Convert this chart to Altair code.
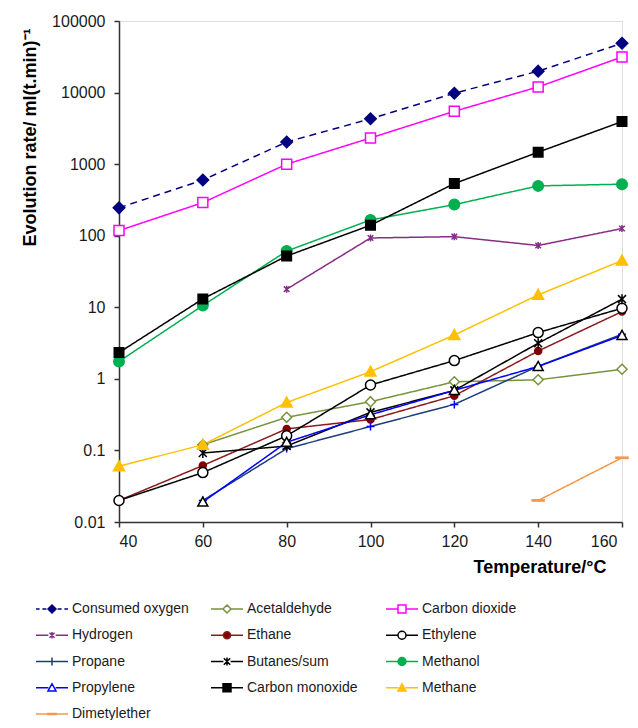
import altair as alt
import pandas as pd

# ---------------- data ----------------
temperature = [40, 60, 80, 100, 120, 140, 160]

consumed_oxygen = [245, 600, 2040, 4300, 9800, 19900, 48800]
acetaldehyde = [None, 0.12, 0.29, 0.48, 0.91, 0.97, 1.36]
carbon_dioxide = [118, 290, 1000, 2320, 5480, 12000, 31400]
hydrogen = [None, None, 17.9, 93, 97, 73, 126]
ethane = [0.02, 0.0615, 0.2, 0.27, 0.58, 2.45, 8.7]
ethylene = [0.02, 0.049, 0.16, 0.82, 1.8, 4.43, 9.7]
propane = [None, 0.02, 0.106, 0.216, 0.44, 1.5, 4.2]
butanes = [None, 0.092, 0.115, 0.34, 0.69, 3.15, 13]
methanol = [1.75, 10.6, 61, 166, 272, 497, 525]
propylene = [None, 0.019, 0.13, 0.315, 0.69, 1.49, 4.05]
carbon_monoxide = [2.33, 13.1, 52, 140, 535, 1470, 3930]
methane = [0.06, 0.12, 0.467, 1.26, 4.1, 14.9, 45]
dimetylether = [None, None, None, None, None, 0.02, 0.079]

series_names = ["Consumed oxygen", "Acetaldehyde", "Carbon dioxide",
                "Hydrogen", "Ethane", "Ethylene",
                "Propane", "Butanes/sum", "Methanol",
                "Propylene", "Carbon monoxide", "Methane",
                "Dimetylether"]
series_values = [consumed_oxygen, acetaldehyde, carbon_dioxide,
                 hydrogen, ethane, ethylene,
                 propane, butanes, methanol,
                 propylene, carbon_monoxide, methane,
                 dimetylether]

y_ticks = [0.01, 0.1, 1, 10, 100, 1000, 10000, 100000]

rows = []
for name, vals in zip(series_names, series_values):
    for t, v in zip(temperature, vals):
        if v is not None:
            rows.append({"series": name, "T": t, "value": v})
df = pd.DataFrame(rows)

# ---------------- styles ----------------
line_colors = ["#000080", "#77933C", "#FF00FF",
               "#862D86", "#8B1A1A", "#000000",
               "#1F3D7A", "#000000", "#00B050",
               "#0000FF", "#000000", "#FFC000",
               "#F79646"]
marker_strokes = ["#000080", "#77933C", "#FF00FF",
                  "#862D86", "#800000", "#000000",
                  "#0000FF", "#000000", "#00B050",
                  "#000000", "#000000", "#FFC000",
                  "#F79646"]
marker_fills = ["#000080", "#FFFFFF", "#FFFFFF",
                "#862D86", "#800000", "#FFFFFF",
                "#0000FF", "#000000", "#00B050",
                "#FFFFFF", "#000000", "#FFC000",
                "#F79646"]
dashes = [[7, 5]] + [[1, 0]] * 12


def diamond(h):
    return f"M0,{-h}L{h},0L0,{h}L{-h},0Z"


def square(h):
    return f"M{-h},{-h}H{h}V{h}H{-h}Z"


def circle(h):
    return f"M{-h},0A{h},{h},0,1,0,{h},0A{h},{h},0,1,0,{-h},0Z"


def tri(h):
    return f"M0,{-h}L{h},{0.8*h}H{-h}Z"


def plus(h):
    return f"M{-h},0H{h}M0,{-h}V{h}"


def star(h):
    k = round(0.8 * h, 3)
    return f"M{-k},{-k}L{k},{k}M{-k},{k}L{k},{-k}M0,{-h}V{h}"


def dash(h):
    t = round(0.12 * h / 1.2, 3)
    return f"M{-h},{-t}H{h}V{t}H{-h}Z"


kinds = [diamond, diamond, square,
         star, circle, circle,
         plus, star, circle,
         tri, square, tri,
         dash]
plot_half = [1.15, 1.0, 1.0,
             0.7, 0.7, 1.0,
             0.8, 1.0, 1.05,
             1.0, 0.95, 1.1,
             1.2]
plot_shapes = [k(h) for k, h in zip(kinds, plot_half)]


def with_line(i, path):
    if i == 0:
        return "M-4,0H-3.1M-2.4,0H-1.4M1.4,0H2.4M3.1,0H4" + path
    return "M-4,0H-0.9M0.9,0H4" + path


legend_half = [1.0, 1.0, 1.0,
               0.8, 0.9, 1.0,
               1.0, 1.0, 1.0,
               1.0, 1.0, 1.0,
               1.0]
legend_shapes = [with_line(i, k(h)) for i, (k, h) in enumerate(zip(kinds, legend_half))]

FONT = "Liberation Sans"

x_enc = alt.X("T:Q", title="Temperature/°C",
              scale=alt.Scale(domain=[40, 160], nice=False, zero=False),
              axis=alt.Axis(values=temperature, format="d", grid=False,
                            tickSize=5, labelPadding=6, labelFontSize=16,
                            labelFont=FONT, labelColor="#1a1a1a",
                            labelOffset={"condition": {"test": "datum.value == 160", "value": -5}, "value": 0},
                            domainColor="#333333", tickColor="#333333",
                            domainWidth=1.5, tickWidth=1.5,
                            titleFont=FONT, titleFontSize=18, titleFontWeight="bold",
                            titleColor="#000000",
                            titleX=487, titleY=45, titleAlign="right",
                            titleBaseline="middle", titleAnchor="end"))
y_enc = alt.Y("value:Q", title="Evolution rate/ ml(t.min)⁻¹",
              scale=alt.Scale(type="log", domain=[0.01, 100000], nice=False),
              axis=alt.Axis(values=y_ticks, format="~g", grid=False,
                            tickSize=5, labelPadding=9, labelFontSize=16,
                            labelFont=FONT, labelColor="#1a1a1a",
                            domainColor="#333333", tickColor="#333333",
                            domainWidth=1.5, tickWidth=1.5,
                            titleFont=FONT, titleFontSize=18, titleFontWeight="bold",
                            titleColor="#000000",
                            titleX=-89, titleY=116, titleAngle=270,
                            titleAlign="center", titleBaseline="middle"))

base = alt.Chart(df)

lines = base.mark_line(strokeWidth=1.5).encode(
    x=x_enc, y=y_enc,
    color=alt.Color("series:N", scale=alt.Scale(domain=series_names, range=line_colors), legend=None),
    strokeDash=alt.StrokeDash("series:N", scale=alt.Scale(domain=series_names, range=dashes), legend=None),
    order="T:Q",
)

points = base.mark_point(filled=True, opacity=1, strokeWidth=1.5, size=100).encode(
    x=x_enc, y=y_enc,
    shape=alt.Shape("series:N", scale=alt.Scale(domain=series_names, range=plot_shapes), legend=None),
    stroke=alt.Stroke("series:N", scale=alt.Scale(domain=series_names, range=marker_strokes), legend=None),
    fill=alt.Fill("series:N", scale=alt.Scale(domain=series_names, range=marker_fills), legend=None),
)

leg_kw = dict(orient="none", legendX=-74, legendY=581, columns=3, title=None,
              symbolSize=64, symbolStrokeWidth=1.5, symbolOpacity=1,
              labelFont=FONT, labelFontSize=14, labelColor="#1a1a1a",
              labelOffset=13, rowPadding=12.25, columnPadding=19,
              gridAlign="all", labelLimit=300, direction="horizontal")

legend_layer = base.mark_point(filled=True, opacity=1, strokeWidth=1.5, size=64).encode(
    x=x_enc, y=y_enc,
    shape=alt.Shape("series:N", scale=alt.Scale(domain=series_names, range=legend_shapes), legend=alt.Legend(**leg_kw)),
    stroke=alt.Stroke("series:N", scale=alt.Scale(domain=series_names, range=line_colors), legend=alt.Legend(**leg_kw)),
    fill=alt.Fill("series:N", scale=alt.Scale(domain=series_names, range=marker_fills), legend=alt.Legend(**leg_kw)),
).transform_filter("datum.T < 0")

chart = alt.layer(lines, points, legend_layer).resolve_scale(
    shape="independent", stroke="independent", fill="independent"
).properties(
    width=503, height=501,
    padding={"left": 111, "top": 13, "right": 8, "bottom": 198},
    autosize=alt.AutoSizeParams(type="none"),
).configure_view(stroke="#333333", strokeWidth=1.5).configure(background="white")

chart.save("out.html", embed_options={"renderer": "svg", "actions": False})
